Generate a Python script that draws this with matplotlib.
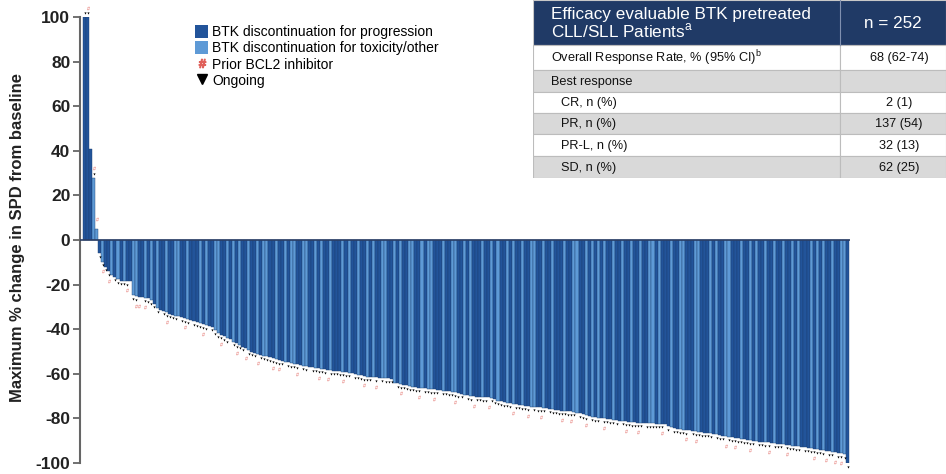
import matplotlib
matplotlib.use("Agg")
import matplotlib.pyplot as plt
from matplotlib.patches import Patch, Rectangle
from matplotlib.lines import Line2D

plt.rcParams["font.family"] = ["Liberation Sans", "DejaVu Sans"]
plt.rcParams["mathtext.fontset"] = "custom"
plt.rcParams["mathtext.rm"] = "Liberation Sans"
plt.rcParams["axes.unicode_minus"] = False

# ── Waterfall data (one value per patient, sorted) ─────────
spd_change = [
    100, 100, 41, 28, 5,
    -6, -9.7, -12, -14, -15.5, -16.5, -17.5, -18.2, -18.3, -18.4, -18.5,
    -24.7, -25.2, -25.5, -25.6, -25.8, -26,
    -27, -28.5, -30.5, -31.2, -31.8, -32.4, -33,
    -33.6, -34, -34.3, -34.7, -35,
    -35.5, -36, -36.4, -36.8,
    -37.3, -37.8, -38.2, -38.6, -38.9, -40.5,
    -41.8, -42.5, -43.2, -44,
    -44.5, -45.6, -46.3, -47, -47.8, -48.6, -49.3,
    -50, -50.5, -51, -51.4, -51.8, -52.2,
    -52.6, -53, -53.4, -53.8, -54.2, -54.6,
    -54.9, -55.2, -55.5, -55.8, -56.1, -56.4, -56.7,
    -56.9, -57.1, -57.3, -57.6, -57.8, -58.0, -58.3,
    -58.4, -58.6, -58.7, -58.9, -59.1, -59.3, -59.5,
    -59.8, -60.1, -60.4, -60.7, -61.0, -61.3,
    -61.4, -61.5, -61.6, -61.7, -61.8, -61.9, -62, -62.2,
    -64, -64.3, -64.6, -64.9, -65.2, -65.5, -65.8,
    -66, -66.2, -66.4, -66.5,
    -66.7, -66.8, -67, -67.2, -67.3, -67.5, -67.6, -67.8, -68,
    -68.3, -68.7, -69, -69.3, -69.7, -70,
    -70.1, -70.2, -70.3, -70.4, -70.5, -70.6, -70.7,
    -71.5, -72, -72.3, -72.7, -73, -73.3,
    -73.5, -73.7, -73.9, -74.1, -74.3, -74.5, -74.7,
    -74.8, -74.9, -75, -75.2, -75.4, -75.6, -75.9, -76.2,
    -76.3, -76.5, -76.6, -76.7, -76.9, -77,
    -77.4, -77.8, -78.2, -78.6, -79,
    -79.2, -79.4, -79.6, -79.8, -80, -80.2, -80.4, -80.6, -80.8,
    -81, -81.1, -81.3, -81.4, -81.6, -81.7, -81.9, -82,
    -82.1, -82.1, -82.2, -82.2, -82.3, -82.4, -82.4, -82.5,
    -83.5, -84, -84.4,
    -84.6, -84.8, -85, -85.2, -85.4, -85.6, -85.8, -86,
    -86.2, -86.4, -86.5, -86.7,
    -87, -87.2, -87.5, -87.7, -88, -88.2, -88.5, -88.7, -89,
    -89.2, -89.4, -89.6, -89.8, -90, -90.2, -90.4,
    -90.5, -90.7, -90.8, -91, -91.1, -91.3, -91.4, -91.6, -91.8, -92,
    -92.2, -92.4, -92.6, -92.8, -93, -93.2, -93.4, -93.6, -93.8, -94, -94.2,
    -94.5, -94.7, -95, -95.2, -95.5, -95.7, -96,
    -100,
]

# D = discontinued for progression, L = discontinued for toxicity/other
discontinuation = "".join([
    "DDDLLDLDDLDL", "DLDDLLDDLDLD", "LDDLDDLLDDLD", "DDLDLDDLLDDL",
    "DLDLDDLDDLDL", "LDDLDDLDLLDD", "LLDDLDLDDLDD", "DLDLDDLDDLDL",
    "DDLLDDLDLDDL", "LDDLDLLDDDLD", "DLLDDLDLDDDL", "DDLDLDDLDLDD",
    "LDDLLDDLDDLD", "DDLDDLLDDLDL", "DLDLDDLDDLDD", "LDDLDDLLDLDD",
    "DLDDLLDDDLLD", "DDLDLDDLLDDD", "LDDLDLDDLDDL", "DDLDDLDLDDDL",
    "DLDLDDLDDLLD",
])

# v = treatment ongoing
ongoing = "".join([
    "vv-v-vvvv-vv", "vvv-vv--vvvv", "v-vvvvv-vvv-", "vvvvv-vvvvvv",
    "-vvvv-vvv-vv", "vvvvvv-vvvv-", "vv-vvvvv-vvv", "vvvv-vvvvvv-",
    "v-vvvv-vvvvv", "vvv-vvvvv-vv", "vvvvv-vv-vvv", "v-vvvvvvv-vv",
    "vvv-vvvv-vvv", "vvvvvv-vvv-v", "vv-vvvvv-vvv", "vvvv-vvvvvv-",
    "v-vvvvv-vvvv", "vvv-vvv-vvvv", "vvvvv-vvvv-v", "vv-vvvvv-vvv",
    "vvvv-vv-vvvv",
])

prior_bcl2 = [1, 3, 4, 6, 8, 14, 17, 18, 20, 27, 33, 39, 45, 50, 53, 57,
              62, 64, 70, 77, 80, 85, 92, 96, 104, 110, 115, 122, 128, 133,
              141, 146, 150, 157, 160, 165, 171, 178, 182, 190, 198, 201,
              211, 214, 219, 225, 231, 240, 244, 247, 249]

legend_labels = ["BTK discontinuation for progression",
                 "BTK discontinuation for toxicity/other",
                 "Prior BCL2 inhibitor", "Ongoing"]

table_header = ["Efficacy evaluable BTK pretreated\nCLL/SLL Patients$^{\\mathrm{a}}$",
                "n = 252"]
table_labels = ["Overall Response Rate, % (95% CI)$^{\\mathrm{b}}$", "Best response",
                "CR, n (%)", "PR, n (%)", "PR-L, n (%)", "SD, n (%)"]
table_values = ["68 (62-74)", "", "2 (1)", "137 (54)", "32 (13)", "62 (25)"]

# ── Style ────────────────────────────────────────────────
DARK = "#22549a"
LIGHT = "#5e9ad6"
NAVY = "#203a66"
GRAY = "#d9d9d9"
BCL2_RED = "#e0605a"

fig = plt.figure(figsize=(9.46, 4.74), dpi=100)
ax = fig.add_axes([80 / 946, 11 / 474, 770 / 946, 446 / 474])

n = len(spd_change)
xs = list(range(n))
colors = [DARK if c == "D" else LIGHT for c in discontinuation[:n]]
ax.bar(xs, spd_change, width=1.0, align="edge", color=colors,
       edgecolor="#1d4070", linewidth=0.3)

# markers under / over each bar
ox, oy = [], []
for i, v in enumerate(spd_change):
    if i < len(ongoing) and ongoing[i] == "v":
        ox.append(i + 0.5)
        oy.append(v - 1.6 if v < 0 else v + 1.6)
ax.scatter(ox, oy, marker="v", s=2.5, color="black", linewidths=0, zorder=3,
           clip_on=False)
bx = [i + 0.5 for i in prior_bcl2]
by = [spd_change[i] - 4.2 if spd_change[i] < 0 else spd_change[i] + 4.2
      for i in prior_bcl2]
ax.scatter(bx, by, marker=r"$\#$", s=7, color=BCL2_RED, linewidths=0,
           zorder=3, clip_on=False)

ax.axhline(0, color="#2b3f66", lw=1.2, zorder=4)
ax.set_xlim(-1, n + 0.3)
ax.set_ylim(-100, 100)
ax.set_yticks(range(-100, 101, 20))
ax.set_xticks([])
for s in ["top", "right", "bottom"]:
    ax.spines[s].set_visible(False)
ax.spines["left"].set_color("#666666")
ax.spines["left"].set_linewidth(1.5)
ax.tick_params(axis="y", length=5, width=1.3, color="#666666", pad=2,
               labelsize=12.5)
for lbl in ax.get_yticklabels():
    lbl.set_fontweight("bold")
    lbl.set_color("#222222")
fig.text(18 / 946, 0.5, "Maximum % change in SPD from baseline", rotation=90,
         fontsize=12, fontweight="bold", color="#222222", ha="center", va="center")

handles = [
    Patch(facecolor=DARK, edgecolor="none"),
    Patch(facecolor=LIGHT, edgecolor="none"),
    Line2D([], [], ls="none", marker=r"$\#$", color=BCL2_RED, markersize=6),
    Line2D([], [], ls="none", marker="v", color="black", markersize=7),
]
fig.legend(handles, legend_labels, loc="upper left",
           bbox_to_anchor=(195 / 946, 1 - 25 / 474), frameon=False,
           fontsize=10, handlelength=0.95, handleheight=1.05, handletextpad=0.3,
           labelspacing=0.15, borderaxespad=0, borderpad=0)

# ── Summary table ────────────────────────────────────────
tw, th = 413, 178
tax = fig.add_axes([533 / 946, (474 - th) / 474, tw / 946, th / 474])
tax.set_xlim(0, tw)
tax.set_ylim(th, 0)
tax.axis("off")
col_split = 307
row_edges = [0, 45, 70, 92, 113, 134, 156, 178]
row_fill = ["white", GRAY, "white", GRAY, "white", GRAY]

tax.add_patch(Rectangle((0, 0), tw, row_edges[1], facecolor=NAVY,
                        edgecolor="#c8c8c8", lw=0.8))
tax.plot([col_split, col_split], [0, row_edges[1]], color="#8090b0", lw=0.8)
tax.text(18, row_edges[1] / 2 + 1, table_header[0], color="white", fontsize=12.3,
         va="center", ha="left", linespacing=1.0)
tax.text((col_split + tw) / 2, row_edges[1] / 2 + 1, table_header[1],
         color="white", fontsize=12.3, va="center", ha="center")

for r, (lab, val) in enumerate(zip(table_labels, table_values)):
    y0, y1 = row_edges[r + 1], row_edges[r + 2]
    for x0, w in [(0, col_split), (col_split, tw - col_split)]:
        tax.add_patch(Rectangle((x0, y0), w, y1 - y0, facecolor=row_fill[r],
                                edgecolor="#bcbcbc", lw=0.8))
    indent = 18 if r < 2 else 28
    ym = (y0 + y1) / 2 + 0.5
    tax.text(indent, ym, lab, fontsize=9.2, va="center", ha="left",
             color="#111111")
    tax.text((col_split + tw) / 2 + 6, ym, val, fontsize=9.2, va="center",
             ha="center", color="#111111")

fig.savefig("out.png", dpi=100)
